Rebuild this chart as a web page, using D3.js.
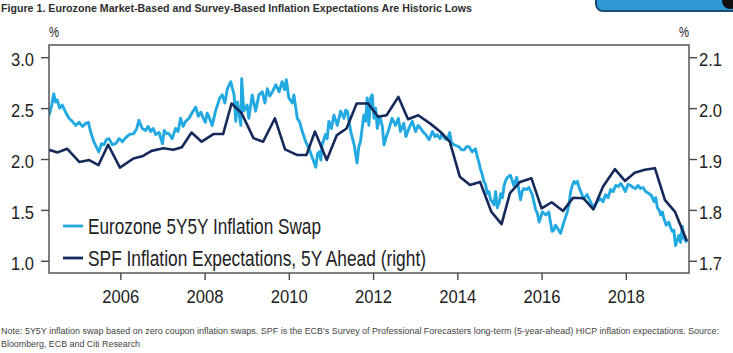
<!DOCTYPE html>
<html>
<head>
<meta charset="utf-8">
<script src="https://cdn.jsdelivr.net/npm/d3@7"></script>
<style>
  body { margin: 0; background: #fff; }
  svg { display: block; font-family: "Liberation Sans Narrow", "Arial Narrow", "Liberation Sans", Arial, sans-serif; }
</style>
</head>
<body>
<div id="chart"></div>
<script>
// eurozone 5y5y swap (left axis, %), decimal years
let swapYears = [
  2004.31, 2004.37, 2004.42, 2004.46, 2004.50, 2004.56, 2004.62, 2004.70, 2004.78, 2004.86, 2004.94,
  2005.02, 2005.10, 2005.18, 2005.24, 2005.30, 2005.37, 2005.43, 2005.49, 2005.55, 2005.61, 2005.67, 2005.73, 2005.81, 2005.89, 2005.97,
  2006.05, 2006.13, 2006.21, 2006.32, 2006.39, 2006.44, 2006.52, 2006.60, 2006.66, 2006.72, 2006.78, 2006.84, 2006.92,
  2007.00, 2007.04, 2007.10, 2007.15, 2007.23, 2007.31, 2007.37, 2007.43, 2007.49, 2007.55, 2007.63, 2007.71, 2007.79, 2007.85, 2007.91, 2007.97,
  2008.02, 2008.06, 2008.10, 2008.18, 2008.26, 2008.36, 2008.42, 2008.48, 2008.54, 2008.62, 2008.70, 2008.74, 2008.78, 2008.86, 2008.88, 2008.93,
  2009.01, 2009.05, 2009.13, 2009.21, 2009.29, 2009.37, 2009.43, 2009.49, 2009.55, 2009.61, 2009.69, 2009.77, 2009.84, 2009.90, 2009.94,
  2010.00, 2010.08, 2010.12, 2010.20, 2010.26, 2010.32, 2010.40, 2010.48, 2010.56, 2010.64, 2010.68, 2010.72, 2010.76, 2010.79, 2010.87, 2010.91, 2010.95,
  2011.01, 2011.07, 2011.15, 2011.23, 2011.31, 2011.35, 2011.39, 2011.47, 2011.55, 2011.62, 2011.66, 2011.70, 2011.78, 2011.82, 2011.86, 2011.90, 2011.94, 2011.98,
  2012.02, 2012.06, 2012.10, 2012.16, 2012.22, 2012.26, 2012.30, 2012.38, 2012.45, 2012.53, 2012.60, 2012.65, 2012.73, 2012.78, 2012.85, 2012.93,
  2013.01, 2013.07, 2013.13, 2013.20, 2013.25, 2013.33, 2013.41, 2013.47, 2013.52, 2013.59, 2013.64, 2013.70, 2013.76, 2013.82, 2013.86, 2013.92,
  2014.04, 2014.10, 2014.16, 2014.22, 2014.28, 2014.35, 2014.43, 2014.47, 2014.51, 2014.55, 2014.59, 2014.63, 2014.67, 2014.71, 2014.75, 2014.79, 2014.83, 2014.87, 2014.91, 2014.95,
  2015.00, 2015.03, 2015.07, 2015.11, 2015.15, 2015.19, 2015.26, 2015.30, 2015.34, 2015.41, 2015.45, 2015.50, 2015.54, 2015.58, 2015.64, 2015.70, 2015.78, 2015.86, 2015.90, 2015.94,
  2016.02, 2016.10, 2016.17, 2016.25, 2016.29, 2016.33, 2016.41, 2016.45, 2016.53, 2016.61, 2016.65, 2016.69, 2016.73, 2016.77, 2016.81, 2016.85, 2016.89, 2016.93,
  2017.00, 2017.08, 2017.16, 2017.24, 2017.32, 2017.40, 2017.46, 2017.52, 2017.58, 2017.64, 2017.70, 2017.76, 2017.82, 2017.88, 2017.94, 2017.99,
  2018.05, 2018.11, 2018.17, 2018.23, 2018.29, 2018.35, 2018.41, 2018.47, 2018.55, 2018.61, 2018.67, 2018.71, 2018.75, 2018.79, 2018.83, 2018.87, 2018.90, 2018.96,
  2019.02, 2019.06, 2019.10, 2019.14, 2019.18, 2019.22, 2019.26, 2019.30, 2019.34, 2019.38, 2019.43, 2019.46
];
let swapValues = [
  2.43, 2.53, 2.64, 2.56, 2.58, 2.50, 2.53, 2.46, 2.40, 2.37, 2.33,
  2.36, 2.32, 2.35, 2.36, 2.26, 2.17, 2.12, 2.07, 2.15, 2.14, 2.19, 2.20, 2.14, 2.15, 2.20,
  2.17, 2.21, 2.24, 2.25, 2.30, 2.38, 2.30, 2.28, 2.32, 2.27, 2.30, 2.24, 2.26,
  2.15, 2.28, 2.25, 2.25, 2.20, 2.30, 2.27, 2.40, 2.32, 2.37, 2.40, 2.46, 2.51, 2.42, 2.46, 2.40,
  2.36, 2.45, 2.42, 2.33, 2.47, 2.60, 2.63, 2.55, 2.69, 2.76, 2.63, 2.37, 2.56, 2.33, 2.79, 2.47,
  2.53, 2.40, 2.63, 2.47, 2.63, 2.66, 2.55, 2.69, 2.62, 2.66, 2.73, 2.66, 2.76, 2.68, 2.78,
  2.60, 2.55, 2.63, 2.40, 2.36, 2.27, 2.17, 2.10, 2.01, 1.92, 2.05, 2.07, 1.99, 2.14, 2.24, 2.20, 2.37,
  2.30, 2.43, 2.33, 2.47, 2.40, 2.48, 2.47, 2.27, 2.14, 1.96, 2.12, 2.17, 2.43, 2.37, 2.60, 2.33, 2.60, 2.63,
  2.40, 2.50, 2.30, 2.42, 2.32, 2.14, 2.20, 2.30, 2.40, 2.33, 2.40, 2.27, 2.35, 2.22, 2.30, 2.37,
  2.27, 2.33, 2.30, 2.26, 2.24, 2.19, 2.27, 2.22, 2.24, 2.20, 2.25, 2.20, 2.19, 2.26, 2.16, 2.14,
  2.12, 2.09, 2.09, 2.12, 2.12, 2.07, 2.10, 2.03, 1.97, 1.90, 1.85, 1.78, 1.75, 1.66, 1.68, 1.60, 1.58, 1.55, 1.68, 1.52,
  1.58, 1.66, 1.62, 1.74, 1.79, 1.82, 1.84, 1.79, 1.74, 1.82, 1.72, 1.60, 1.68, 1.71, 1.70, 1.72, 1.65, 1.50, 1.47, 1.38,
  1.48, 1.45, 1.48, 1.29, 1.30, 1.35, 1.30, 1.27, 1.38, 1.48, 1.55, 1.68, 1.74, 1.78, 1.76, 1.78, 1.72, 1.68,
  1.61, 1.65, 1.58, 1.52, 1.58, 1.61, 1.58, 1.65, 1.62, 1.70, 1.68, 1.74, 1.73, 1.76, 1.72, 1.68,
  1.75, 1.74, 1.72, 1.71, 1.74, 1.71, 1.72, 1.68, 1.66, 1.64, 1.58, 1.62, 1.52, 1.50, 1.45, 1.48, 1.42, 1.35,
  1.38, 1.33, 1.29, 1.30, 1.15, 1.20, 1.25, 1.18, 1.34, 1.22, 1.19, 1.20
];

// SPF 5y ahead (right axis, %), quarterly rounds
let spfYears = [
  2004.31, 2004.51, 2004.74, 2005.03, 2005.26, 2005.48, 2005.71, 2005.99,
  2006.31, 2006.54, 2006.74, 2007.02, 2007.26, 2007.46, 2007.69, 2007.93,
  2008.21, 2008.44, 2008.64, 2008.88, 2009.16, 2009.39, 2009.67, 2009.91,
  2010.19, 2010.42, 2010.62, 2010.90, 2011.14, 2011.37, 2011.61, 2011.88,
  2012.12, 2012.32, 2012.60, 2012.83, 2013.07, 2013.35, 2013.59, 2013.82,
  2014.06, 2014.30, 2014.54, 2014.81, 2015.05, 2015.25, 2015.49, 2015.76,
  2016.00, 2016.24, 2016.51, 2016.75, 2016.99, 2017.23, 2017.46, 2017.74,
  2017.98, 2018.21, 2018.45, 2018.69, 2018.93, 2019.17, 2019.45
];
let spfValues = [
  1.918, 1.913, 1.920, 1.894, 1.898, 1.888, 1.928, 1.883,
  1.901, 1.906, 1.916, 1.921, 1.918, 1.923, 1.952, 1.934,
  1.949, 1.949, 2.009, 1.990, 1.941, 1.934, 1.980, 1.919,
  1.908, 1.908, 1.954, 1.898, 1.947, 1.960, 2.009, 2.009,
  1.983, 1.986, 2.022, 1.978, 1.986, 1.970, 1.954, 1.934,
  1.865, 1.849, 1.855, 1.796, 1.772, 1.833, 1.855, 1.862,
  1.803, 1.815, 1.798, 1.824, 1.823, 1.801, 1.846, 1.880,
  1.857, 1.873, 1.879, 1.882, 1.819, 1.796, 1.739
];

let xTicks = [2006, 2008, 2010, 2012, 2014, 2016, 2018];
let leftTicks = [1.0, 1.5, 2.0, 2.5, 3.0];
let rightTicks = [1.7, 1.8, 1.9, 2.0, 2.1];

let seriesNames = ["Eurozone 5Y5Y Inflation Swap", "SPF Inflation Expectations, 5Y Ahead (right)"];
let colors = ["#22a9e2", "#15295b"];

let titleText = "Figure 1. Eurozone Market-Based and Survey-Based Inflation Expectations Are Historic Lows";
let noteLines = [
  "Note: 5Y5Y inflation swap based on zero coupon inflation swaps. SPF is the ECB's Survey of Professional Forecasters long-term (5-year-ahead) HICP inflation expectations. Source:",
  "Bloomberg, ECB and Citi Research"
];

let width = 733,
  height = 353,
  plotL = 49, plotR = 689, plotT = 45, plotB = 273;

let svg = d3.select("#chart")
  .append("svg")
  .attr("width", width)
  .attr("height", height);

let x = d3.scaleLinear().domain([2004.306, 2019.5]).range([plotL, plotR]);
let yL = d3.scaleLinear().domain([0.88, 3.12]).range([plotB, plotT]);
let yR = d3.scaleLinear().domain([1.676, 2.124]).range([plotB, plotT]);

// the cut-off button in the corner of the screenshot
svg.append("rect")
  .attr("x", 596).attr("y", -14)
  .attr("width", 150).attr("height", 25)
  .attr("rx", 7)
  .attr("fill", "#2e9bd6")
  .attr("stroke", "#1b4c74")
  .attr("stroke-width", 2);
svg.append("circle")
  .attr("cx", 730).attr("cy", 1).attr("r", 8)
  .attr("fill", "#111");

// title
svg.append("text")
  .attr("x", 1).attr("y", 12)
  .attr("textLength", 471)
  .attr("lengthAdjust", "spacingAndGlyphs")
  .style("font-size", "11px")
  .style("font-weight", "bold")
  .attr("fill", "#2f2f2f")
  .text(titleText);

// % units
svg.append("text")
  .attr("x", 49).attr("y", 37)
  .attr("textLength", 10).attr("lengthAdjust", "spacingAndGlyphs")
  .style("font-size", "15px").attr("fill", "#222")
  .text("%");
svg.append("text")
  .attr("x", 679).attr("y", 37)
  .attr("textLength", 10).attr("lengthAdjust", "spacingAndGlyphs")
  .style("font-size", "15px").attr("fill", "#222")
  .text("%");

svg.append("clipPath").attr("id", "plot-clip")
  .append("rect")
  .attr("x", plotL).attr("y", plotT)
  .attr("width", plotR - plotL).attr("height", plotB - plotT);

let swap = swapYears.map((t, i) => ({ t: t, v: swapValues[i] }));
let spf = spfYears.map((t, i) => ({ t: t, v: spfValues[i] }));

let lines = svg.append("g").attr("clip-path", "url(#plot-clip)");

lines.append("path")
  .datum(swap)
  .attr("fill", "none")
  .attr("stroke", colors[0])
  .attr("stroke-width", 2.9)
  .attr("stroke-linejoin", "round")
  .attr("d", d3.line().x(d => x(d.t)).y(d => yL(d.v)));

lines.append("path")
  .datum(spf)
  .attr("fill", "none")
  .attr("stroke", colors[1])
  .attr("stroke-width", 2.6)
  .attr("stroke-linejoin", "round")
  .attr("d", d3.line().x(d => x(d.t)).y(d => yR(d.v)));

// frame
svg.append("rect")
  .attr("x", plotL).attr("y", plotT)
  .attr("width", plotR - plotL).attr("height", plotB - plotT)
  .attr("fill", "none")
  .attr("stroke", "#4a4a4a")
  .attr("stroke-width", 1.4);

function styleAxis(g, w) {
  g.select(".domain").remove();
  g.selectAll("line").attr("stroke", "#4a4a4a").attr("stroke-width", 1.4);
  g.selectAll("text")
    .style("font-size", "19px")
    .attr("fill", "#222")
    .attr("textLength", w)
    .attr("lengthAdjust", "spacingAndGlyphs");
}

svg.append("g")
  .attr("transform", `translate(${plotL},0)`)
  .call(d3.axisLeft(yL).tickValues(leftTicks).tickFormat(d3.format(".1f")).tickSize(8).tickPadding(7))
  .call(g => styleAxis(g, 23))
  .call(g => g.selectAll("text").attr("dy", "0.45em"));

svg.append("g")
  .attr("transform", `translate(${plotR},0)`)
  .call(d3.axisRight(yR).tickValues(rightTicks).tickFormat(d3.format(".1f")).tickSize(8).tickPadding(2))
  .call(g => styleAxis(g, 23))
  .call(g => g.selectAll("text").attr("dy", "0.45em"));

svg.append("g")
  .attr("transform", `translate(0,${plotB})`)
  .call(d3.axisBottom(x).tickValues(xTicks).tickFormat(d3.format("d")).tickSize(7).tickPadding(10))
  .call(g => styleAxis(g, 37));

// legend
let legend = svg.append("g");
let legendY = [226, 258];
let legendW = [233, 338];
seriesNames.forEach((name, i) => {
  legend.append("line")
    .attr("x1", 63).attr("x2", 83)
    .attr("y1", legendY[i]).attr("y2", legendY[i])
    .attr("stroke", colors[i])
    .attr("stroke-width", 2.8);
  legend.append("text")
    .attr("x", 88).attr("y", legendY[i] + 8)
    .attr("textLength", legendW[i])
    .attr("lengthAdjust", "spacingAndGlyphs")
    .style("font-size", "21.5px")
    .attr("fill", "#222")
    .text(name);
});

// footnote - small font stretched a bit taller so the long line fits the width
let note = svg.append("g")
  .attr("transform", "translate(1,334) scale(1,1.18)");
note.selectAll("text")
  .data(noteLines)
  .join("text")
  .attr("x", 0)
  .attr("y", (d, i) => i * 11.4)
  .attr("textLength", (d, i) => i == 0 ? 718 : 139)
  .attr("lengthAdjust", "spacingAndGlyphs")
  .style("font-size", "7.9px")
  .attr("fill", "#444")
  .text(d => d);
</script>
</body>
</html>
